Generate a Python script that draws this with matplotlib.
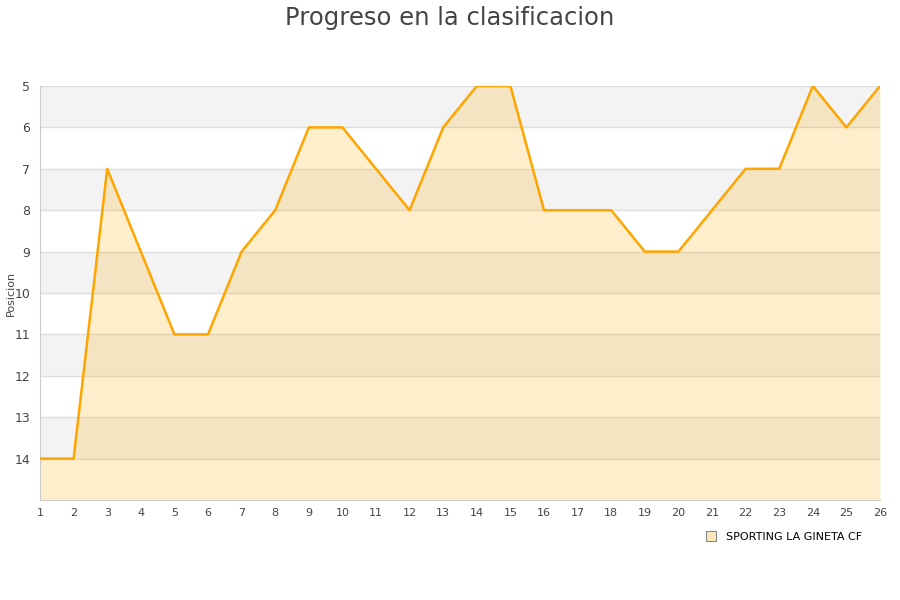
import matplotlib
matplotlib.use("Agg")
import matplotlib.pyplot as plt
from matplotlib.lines import Line2D

# datos
jornadas = list(range(1, 27))
posiciones = [14, 14, 7, 9, 11, 11, 9, 8, 6, 6, 7, 8, 6, 5, 5, 8, 8, 8, 9, 9, 8, 7, 7, 5, 6, 5]
equipo = "SPORTING LA GINETA CF"
titulo = "Progreso en la clasificacion"

fig = plt.figure(figsize=(9, 6), dpi=100)
ax = fig.add_axes([40 / 900, 100 / 600, 840 / 900, 414 / 600])

# bandas alternas
for y in range(5, 15, 2):
    ax.axhspan(y, y + 1, color="#f3f3f3", zorder=0, lw=0)
for y in range(5, 15):
    ax.axhline(y, color="#dddddd", lw=1, zorder=1)

ax.fill_between(jornadas, posiciones, 15, color="#ffaa00", alpha=0.2, lw=0, zorder=2)
ax.plot(jornadas, posiciones, color="#ffa500", lw=1.8, zorder=3)

ax.set_xlim(1, 26)
ax.set_ylim(15, 5)
ax.set_xticks(jornadas)
ax.set_yticks(range(5, 15))
ax.tick_params(axis="both", labelsize=8, colors="#444444", length=0)
ax.tick_params(axis="x", pad=6)
ax.tick_params(axis="y", pad=7)
for lab in ax.get_yticklabels():
    lab.set_fontsize(9)
for s in ["top", "right"]:
    ax.spines[s].set_visible(False)
ax.spines["left"].set_color("#cccccc")
ax.spines["bottom"].set_color("#cccccc")

ax.set_ylabel("Posicion", fontsize=8, color="#444444")
ax.yaxis.set_label_coords(-24 / 840, 0.5)
fig.text(0.5, 0.99, titulo, ha="center", va="top", fontsize=17.5, color="#444444")

handle = Line2D([], [], marker="s", ls="none", markersize=7,
                markerfacecolor="#ffe6bb", markeredgecolor="#888888", markeredgewidth=0.8)
fig.legend([handle], [equipo], loc="center", bbox_to_anchor=(0.868, 0.105),
           frameon=False, fontsize=8, handletextpad=0.4)

fig.savefig("out.png", dpi=100)
